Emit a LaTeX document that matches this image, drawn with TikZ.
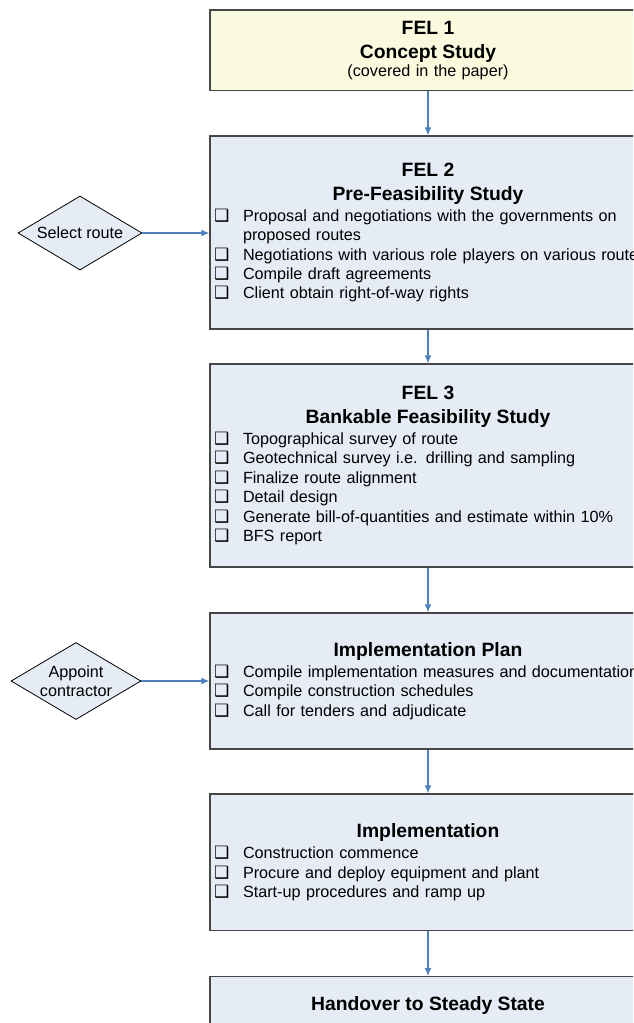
\documentclass[tikz,border=0pt]{standalone}
\usepackage{fontspec}
\setmainfont{Liberation Sans}
\newfontfamily\dejavu{DejaVu Sans}
\usepackage{xcolor}
\usetikzlibrary{arrows.meta, shapes.geometric}
\definecolor{felyellow}{RGB}{250, 251, 222}
\definecolor{felblue}{RGB}{230, 236, 246}
\definecolor{flowblue}{RGB}{79, 129, 189}
\definecolor{boxedge}{RGB}{70, 70, 70}

\newcommand{\chk}{{\dejavu\fontsize{17}{17}\selectfont ❑}}
\newcommand{\felitem}[1]{\par\noindent\makebox[29pt][l]{\chk}\mbox{#1}}
\newcommand{\felcont}[1]{\par\noindent\hspace*{29pt}\mbox{#1}}
\newcommand{\feltitle}[1]{{\centering\fontsize{19.3}{24}\selectfont\bfseries #1\par}\vspace{1.6pt}}

\begin{document}
\begin{tikzpicture}[x=1pt, y=-1pt, >={Latex[length=8pt, width=7pt]},
    felbox/.style={draw=boxedge, line width=1.4pt, fill=felblue, minimum width=436pt,
        text width=428pt, inner xsep=4pt, inner ysep=0pt, align=left,
        font=\fontsize{16.2}{19.4}\selectfont},
    choice/.style={diamond, draw=black, line width=0.8pt, fill=felblue, inner sep=0pt,
        shape aspect=1.68, align=center, font=\fontsize{16.2}{19}\selectfont},
    flow/.style={->, draw=flowblue, fill=flowblue, line width=1.2pt}]
    \useasboundingbox (0,0) rectangle (633,1023);
    \fill[white] (0,0) rectangle (633,1023);
    \clip (0,0) rectangle (633,1023);

    \node[felbox, fill=felyellow, minimum height=80.5pt] (fel1) at (428,50.3)
        {{\centering\fontsize{19.3}{24}\selectfont\bfseries FEL 1\\Concept Study\par}
        {\centering\fontsize{16.2}{18.3}\selectfont (covered in the paper)\par}};
    \node[felbox, minimum height=193pt] (fel2) at (428,232.5)
        {\feltitle{FEL 2\\Pre-Feasibility Study}
        \felitem{Proposal and negotiations with the governments on}
        \felcont{proposed routes}
        \felitem{Negotiations with various role players on various routes}
        \felitem{Compile draft agreements}
        \felitem{Client obtain right-of-way rights}};
    \node[felbox, minimum height=203pt] (fel3) at (428,465.5)
        {\feltitle{FEL 3\\Bankable Feasibility Study}
        \felitem{Topographical survey of route}
        \felitem{Geotechnical survey i.e. drilling and sampling}
        \felitem{Finalize route alignment}
        \felitem{Detail design}
        \felitem{Generate bill-of-quantities and estimate within 10\%}
        \felitem{BFS report}};
    \node[felbox, minimum height=136pt] (plan) at (428,681)
        {\feltitle{Implementation Plan}
        \felitem{Compile implementation measures and documentation}
        \felitem{Compile construction schedules}
        \felitem{Call for tenders and adjudicate}};
    \node[felbox, minimum height=136.5pt] (impl) at (428,862.2)
        {\feltitle{Implementation}
        \felitem{Construction commence}
        \felitem{Procure and deploy equipment and plant}
        \felitem{Start-up procedures and ramp up}};
    \node[felbox, anchor=north, minimum height=80pt] (handover) at (428,976) {};
    \node[anchor=base, font=\fontsize{19.3}{24}\selectfont\bfseries] (handovertitle)
        at (428,1010) {Handover to Steady State};

    \node[choice, minimum width=124pt, minimum height=74pt] (selroute) at (80,233) {Select route};
    \node[choice, minimum width=130pt, minimum height=77pt] (appoint) at (76,681) {Appoint\\contractor};

    \foreach \a/\b in {fel1/fel2, fel2/fel3, fel3/plan, plan/impl, impl/handover}
        \draw[flow] (\a) -- (\b);
    \draw[flow] (selroute.east) -- (selroute.east -| fel2.west);
    \draw[flow] (appoint.east) -- (appoint.east -| plan.west);
\end{tikzpicture}
\end{document}
